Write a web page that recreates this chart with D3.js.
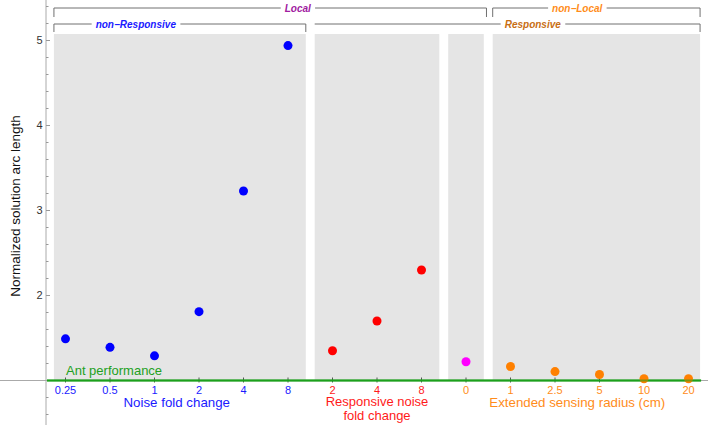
<!DOCTYPE html>
<html><head><meta charset="utf-8">
<script src="https://cdn.jsdelivr.net/npm/d3@7"></script>
<style>body{margin:0;background:#fff}svg{display:block;font-family:"Liberation Sans",Arial,sans-serif}</style>
</head><body><svg id="c" width="708" height="425"></svg>
<script>
// ---- data ----
const noiseLabels = ["0.25","0.5","1","2","4","8"];
const noiseValues = [1.49,1.39,1.29,1.81,3.23,4.94];
const respLabels = ["2","4","8"];
const respValues = [1.35,1.70,2.30];
const zeroLabels = ["0"];
const zeroValues = [1.22];
const radiusLabels = ["1","2.5","5","10","20"];
const radiusValues = [1.165,1.105,1.07,1.02,1.02];
const antPerformance = 1;
const yTicks = [2,3,4,5];

const groups = [
  {labels:noiseLabels, values:noiseValues, color:"#0000ff", text:"#1a1aff"},
  {labels:respLabels, values:respValues, color:"#ff0000", text:"#ff1a1a"},
  {labels:zeroLabels, values:zeroValues, color:"#ff00ff", text:"#ff8c1a"},
  {labels:radiusLabels, values:radiusValues, color:"#ff8000", text:"#ff8c1a"}
];
let idx = 0;
const points = [];
groups.forEach((g,gi)=>{
  g.start = idx;
  g.labels.forEach((l,i)=>{points.push({pos:idx,label:l,value:g.values[i],color:g.color,text:g.text});idx++;});
  g.end = idx-1;
});

const svg = d3.select("#c");
const x = d3.scaleLinear().domain([0,14]).range([65.5,688.5]);
const y = d3.scaleLinear().domain([1,5]).range([380.5,40.5]);
const axisX = 46;

const outerPad = 0.26, innerPad = 0.4;
groups.forEach((g,gi)=>{
  const l = gi===0 ? g.start-outerPad : g.start-innerPad;
  const r = gi===groups.length-1 ? g.end+outerPad : g.end+innerPad;
  svg.append("rect").attr("x",x(l)).attr("y",y(5.076)).attr("width",x(r)-x(l)).attr("height",y(1)-y(5.076)).attr("fill","#e5e5e5");
});

svg.append("line").attr("x1",0).attr("x2",708).attr("y1",y(1)).attr("y2",y(1)).attr("stroke","#aaa").attr("stroke-width",1);

svg.append("line").attr("x1",axisX).attr("x2",axisX).attr("y1",0).attr("y2",425).attr("stroke","#aaa").attr("stroke-width",1);
const minor = d3.range(0.6,5.5,0.2).filter(v=>Math.abs(v-Math.round(v))>1e-6);
svg.selectAll(".mt").data(minor).enter().append("line")
  .attr("x1",axisX).attr("x2",axisX+2.5).attr("y1",d=>y(d)).attr("y2",d=>y(d)).attr("stroke","#999");
svg.selectAll(".Mt").data(yTicks).enter().append("line")
  .attr("x1",axisX).attr("x2",axisX+4).attr("y1",d=>y(d)).attr("y2",d=>y(d)).attr("stroke","#999");
svg.selectAll(".yl").data(yTicks).enter().append("text")
  .attr("x",axisX-3.5).attr("y",d=>y(d)).attr("dy","0.35em").attr("text-anchor","end")
  .attr("font-size","11px").attr("fill","#333").text(d=>d);

svg.append("text").attr("transform",`translate(20,${206}) rotate(-90)`).attr("text-anchor","middle")
  .attr("font-size","13.5px").attr("fill","#111").text("Normalized solution arc length");

svg.selectAll(".xt").data(points).enter().append("line")
  .attr("x1",d=>x(d.pos)).attr("x2",d=>x(d.pos)).attr("y1",y(1)-3).attr("y2",y(1)+2).attr("stroke","#555");

svg.append("line").attr("x1",axisX+1).attr("x2",x(14+outerPad)+1).attr("y1",y(antPerformance)).attr("y2",y(antPerformance))
  .attr("stroke","#1ca01c").attr("stroke-width",2);
svg.append("text").attr("x",x(0)+0.5).attr("y",y(antPerformance)-5.5).attr("font-size","13px").attr("fill","#22a022").text("Ant performance");

svg.selectAll(".pt").data(points).enter().append("circle")
  .attr("cx",d=>x(d.pos)).attr("cy",d=>y(d.value)).attr("r",4.5).attr("fill",d=>d.color);

svg.append("line").attr("x1",axisX+1).attr("x2",x(14+outerPad)+1).attr("y1",y(antPerformance)).attr("y2",y(antPerformance))
  .attr("stroke","#1ca01c").attr("stroke-width",2).attr("opacity",0.55);

svg.selectAll(".xl").data(points).enter().append("text")
  .attr("x",d=>x(d.pos)).attr("y",393.5).attr("text-anchor","middle").attr("font-size","11px")
  .attr("fill",d=>d.text).text(d=>d.label);

svg.append("text").attr("x",x(2.5)).attr("y",406.5).attr("text-anchor","middle").attr("font-size","13.3px").attr("fill","#1a1aff").text("Noise fold change");
const rt = svg.append("text").attr("text-anchor","middle").attr("font-size","13px").attr("fill","#ff1a1a");
rt.append("tspan").attr("x",x(7)).attr("y",406).text("Responsive noise");
rt.append("tspan").attr("x",x(7)).attr("y",419.5).text("fold change");
svg.append("text").attr("x",x(11.5)).attr("y",406.5).attr("text-anchor","middle").attr("font-size","13.3px").attr("fill","#ff8c1a").text("Extended sensing radius (cm)");

const brackets = [
  {label:"Local", from:-outerPad, to:9+innerPad+0.06, ly:8, drop:9, labelPos:5.22, color:"#a0209f"},
  {label:"non\u2212Local", from:9.6, to:14+outerPad, ly:8, drop:9, labelPos:11.5, color:"#ff8c1a"},
  {label:"non\u2212Responsive", from:-outerPad, to:5+innerPad, ly:24, drop:8, labelPos:1.58, color:"#1a1aff"},
  {label:"Responsive", from:5.6, to:14+outerPad, ly:24, drop:8, labelPos:10.5, color:"#c86e14", noLeft:true}
];
brackets.forEach(b=>{
  const x1 = x(b.from), x2 = x(b.to);
  const path = (b.noLeft ? `M${x1},${b.ly}` : `M${x1},${b.ly+b.drop}V${b.ly}`) + `H${x2}V${b.ly+b.drop}`;
  svg.append("path").attr("d",path).attr("fill","none").attr("stroke","#707070").attr("stroke-width",1);
  const t = svg.append("text").attr("x",x(b.labelPos)).attr("y",b.ly).attr("dy","0.35em").attr("text-anchor","middle")
    .attr("font-size","10px").attr("font-weight","bold").attr("font-style","italic").attr("fill",b.color).text(b.label);
  const bb = t.node().getBBox();
  svg.insert("rect", () => t.node()).attr("x",bb.x-4).attr("y",b.ly-2).attr("width",bb.width+8).attr("height",4).attr("fill","#fff");
});
</script></body></html>
